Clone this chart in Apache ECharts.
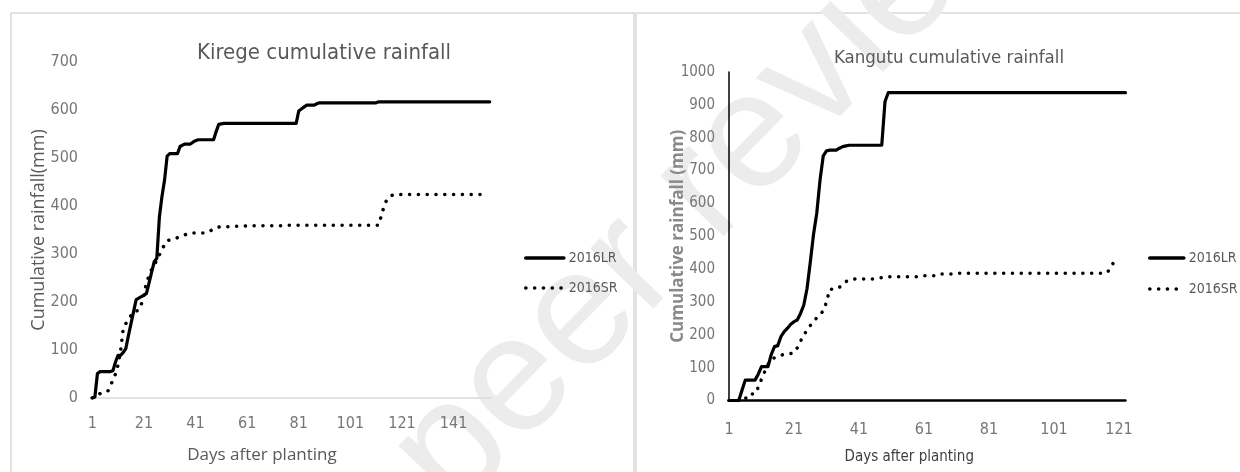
<!DOCTYPE html>
<html>
<head>
<meta charset="utf-8">
<title>Cumulative rainfall</title>
<script src="https://cdn.jsdelivr.net/npm/echarts@6/dist/echarts.min.js"></script>
<style>
  html, body { margin: 0; padding: 0; background: #fff; }
  #chart { width: 1240px; height: 472px; }
</style>
</head>
<body>
<div id="chart"></div>
<script>
// Kirege: days 1..155, Kangutu: days 1..123
var kiregeDays = Array.from({ length: 155 }, function (_, i) { return String(i + 1); });
var kangutuDays = Array.from({ length: 123 }, function (_, i) { return String(i + 1); });

// Kirege cumulative rainfall (mm)
var kiregeLR = [
  0, 2, 51, 55, 55, 55, 55, 55, 57, 75,
  89, 89, 95, 103, 130, 155, 180, 205, 208, 211,
  214, 218, 240, 262, 284, 291, 377, 420, 454, 504,
  509, 509, 509, 509, 524, 527, 529, 529, 529, 533,
  536, 538, 538, 538, 538, 538, 538, 538, 555, 570,
  571, 572, 572, 572, 572, 572, 572, 572, 572, 572,
  572, 572, 572, 572, 572, 572, 572, 572, 572, 572,
  572, 572, 572, 572, 572, 572, 572, 572, 572, 572,
  598, 602, 606, 610, 610, 610, 610, 613, 615, 615,
  615, 615, 615, 615, 615, 615, 615, 615, 615, 615,
  615, 615, 615, 615, 615, 615, 615, 615, 615, 615,
  615, 617, 617, 617, 617, 617, 617, 617, 617, 617,
  617, 617, 617, 617, 617, 617, 617, 617, 617, 617,
  617, 617, 617, 617, 617, 617, 617, 617, 617, 617,
  617, 617, 617, 617, 617, 617, 617, 617, 617, 617,
  617, 617, 617, 617, 617
];
var kiregeSR = [
  0, 3, 7, 9, 11, 13, 14, 25, 38, 50,
  69, 100, 145, 155, 162, 172, 180, 181, 183, 195,
  215, 240, 255, 268, 277, 287, 298, 309, 320, 328,
  329, 330, 332, 334, 336, 338, 340, 342, 343, 344,
  344, 344, 344, 344, 344, 346, 349, 352, 355, 356,
  357, 357, 357, 357, 357, 358, 358, 358, 358, 358,
  359, 359, 359, 359, 359, 359, 359, 359, 359, 359,
  359, 359, 359, 359, 359, 360, 360, 360, 360, 360,
  360, 360, 360, 360, 360, 360, 360, 360, 360, 360,
  360, 360, 360, 360, 360, 360, 360, 360, 360, 360,
  360, 360, 360, 360, 360, 360, 360, 360, 360, 360,
  360, 360, 380, 398, 412, 418, 422, 424, 424, 424,
  424, 424, 424, 424, 424, 424, 424, 424, 424, 424,
  424, 424, 424, 424, 424, 424, 424, 424, 424, 424,
  424, 424, 424, 424, 424, 424, 424, 424, 424, 424,
  424, 424
];

// Kangutu cumulative rainfall (mm)
var kangutuLR = [
  0, 0, 0, 0, 31, 62, 62, 62, 62, 80,
  103, 103, 103, 140, 164, 167, 195, 210, 220, 232,
  240, 245, 265, 290, 340, 420, 505, 570, 670, 745,
  760, 762, 762, 762, 768, 773, 775, 777, 777, 777,
  777, 777, 777, 777, 777, 777, 777, 777, 910, 937,
  937, 937, 937, 937, 937, 937, 937, 937, 937, 937,
  937, 937, 937, 937, 937, 937, 937, 937, 937, 937,
  937, 937, 937, 937, 937, 937, 937, 937, 937, 937,
  937, 937, 937, 937, 937, 937, 937, 937, 937, 937,
  937, 937, 937, 937, 937, 937, 937, 937, 937, 937,
  937, 937, 937, 937, 937, 937, 937, 937, 937, 937,
  937, 937, 937, 937, 937, 937, 937, 937, 937, 937,
  937, 937, 937
];
var kangutuSR = [
  0, 0, 0, 0, 0, 5, 20, 20, 20, 40,
  65, 88, 110, 125, 130, 135, 138, 140, 142, 143,
  145, 160, 180, 200, 213, 228, 240, 252, 263, 272,
  300, 339, 339, 339, 345, 352, 362, 367, 369, 370,
  370, 370, 370, 370, 370, 370, 372, 374, 375, 376,
  377, 377, 377, 377, 377, 377, 377, 377, 377, 377,
  380, 380, 380, 380, 380, 385, 385, 385, 385, 385,
  387, 387, 387, 387, 387, 387, 387, 387, 387, 387,
  387, 387, 387, 387, 387, 387, 387, 387, 387, 387,
  387, 387, 387, 387, 387, 387, 387, 387, 387, 387,
  387, 387, 387, 387, 387, 387, 387, 387, 387, 387,
  387, 387, 387, 387, 387, 387, 387, 397, 415, 428,
  430
];

var seriesNames = ['2016LR', '2016SR'];

var narrow = '"DejaVu Sans Condensed", "Liberation Sans", sans-serif';
var wide = '"Open Sans", "Noto Sans", sans-serif';
var textGray = '#595959';
var tickGray = '#767676';

var solidLine = { color: '#000', width: 3.2, cap: 'round', join: 'round' };
var dotLine = { color: '#000', width: 3.5, type: [0.1, 8.7], cap: 'round' };
var plainNumber = function (v) { return String(v); };

var chart = echarts.init(document.getElementById('chart'));

chart.setOption({
  backgroundColor: '#fff',
  animation: false,
  title: [
    { text: 'Kirege cumulative rainfall', left: 319, top: 37, textAlign: 'center',
      textStyle: { fontFamily: narrow, fontSize: 22, fontWeight: 'normal', color: textGray } },
    { text: 'Kangutu cumulative rainfall', left: 944, top: 44, textAlign: 'center',
      textStyle: { fontFamily: narrow, fontSize: 18.5, fontWeight: 'normal', color: textGray } }
  ],
  legend: [
    { data: seriesNames, orient: 'vertical', left: 519, top: 246, itemWidth: 38, itemHeight: 14, itemGap: 16,
      itemStyle: { opacity: 0 }, lineStyle: { width: 3.6 },
      textStyle: { fontFamily: narrow, fontSize: 14, color: textGray }, selectedMode: false },
    { data: seriesNames, orient: 'vertical', left: 1143, top: 246, itemWidth: 34, itemHeight: 14, itemGap: 17,
      itemStyle: { opacity: 0 }, lineStyle: { width: 3.6 },
      textStyle: { fontFamily: narrow, fontSize: 14, color: textGray }, selectedMode: false }
  ],
  grid: [
    { left: 91, top: 62, width: 400, height: 336 },
    { left: 729, top: 72, width: 396.5, height: 328.5 }
  ],
  xAxis: [
    { type: 'category', gridIndex: 0, data: kiregeDays, boundaryGap: true,
      name: 'Days after planting', nameLocation: 'middle', nameGap: 49, nameMoveOverlap: false,
      nameTextStyle: { fontFamily: wide, fontSize: 17, color: textGray, padding: [0, 58, 0, 0] },
      axisLine: { lineStyle: { color: '#d9d9d9', width: 1.5 } },
      axisTick: { show: false },
      axisLabel: { interval: 19, margin: 18, fontFamily: narrow, fontSize: 16, color: tickGray } },
    { type: 'category', gridIndex: 1, data: kangutuDays, boundaryGap: false,
      name: 'Days after planting', nameLocation: 'middle', nameGap: 49, nameMoveOverlap: false,
      nameTextStyle: { fontFamily: narrow, fontSize: 15, color: '#404040', padding: [0, 36, 0, 0] },
      axisLine: { lineStyle: { color: '#000', width: 2.5 } },
      axisTick: { show: false },
      axisLabel: { interval: 19, margin: 21, fontFamily: narrow, fontSize: 16, color: tickGray } }
  ],
  yAxis: [
    { type: 'value', gridIndex: 0, min: 0, max: 700, interval: 100,
      name: 'Cumulative rainfall(mm)', nameLocation: 'middle', nameGap: 43, nameMoveOverlap: false,
      nameTextStyle: { fontFamily: wide, fontSize: 18, color: textGray },
      axisLine: { show: false }, axisTick: { show: false }, splitLine: { show: false },
      axisLabel: { margin: 13, fontFamily: narrow, fontSize: 16, color: tickGray, formatter: plainNumber } },
    { type: 'value', gridIndex: 1, min: 0, max: 1000, interval: 100,
      name: 'Cumulative rainfall (mm)', nameLocation: 'middle', nameGap: 42, nameMoveOverlap: false,
      nameTextStyle: { fontFamily: wide, fontSize: 17, fontWeight: 'bold', color: '#8a8a8a' },
      axisLine: { show: true, lineStyle: { color: '#000', width: 1.5 } },
      axisTick: { show: false }, splitLine: { show: false },
      axisLabel: { margin: 14, fontFamily: narrow, fontSize: 15, color: tickGray, formatter: plainNumber } }
  ],
  series: [
    { name: '2016LR', type: 'line', xAxisIndex: 0, yAxisIndex: 0, data: kiregeLR,
      symbol: 'none', lineStyle: solidLine, itemStyle: { color: '#000' }, z: 3 },
    { name: '2016SR', type: 'line', xAxisIndex: 0, yAxisIndex: 0, data: kiregeSR,
      symbol: 'none', lineStyle: dotLine, itemStyle: { color: '#000' }, z: 3 },
    { name: '2016LR', type: 'line', xAxisIndex: 1, yAxisIndex: 1, data: kangutuLR,
      symbol: 'none', lineStyle: solidLine, itemStyle: { color: '#000' }, z: 3 },
    { name: '2016SR', type: 'line', xAxisIndex: 1, yAxisIndex: 1, data: kangutuSR,
      symbol: 'none', lineStyle: dotLine, itemStyle: { color: '#000' }, z: 3 }
  ],
  graphic: [
    // panel frames
    { type: 'rect', z: -10, shape: { x: 11, y: 13, width: 623, height: 480 },
      style: { fill: 'none', stroke: '#d9d9d9', lineWidth: 1.5 } },
    { type: 'rect', z: -10, shape: { x: 636, y: 13, width: 620, height: 480 },
      style: { fill: 'none', stroke: '#d9d9d9', lineWidth: 1.5 } },
    // review watermark
    { type: 'text', z: -5, x: 480, y: 540, rotation: 0.8,
      style: { text: 'peer review', fontFamily: '"Liberation Sans", sans-serif', fontSize: 165,
               fill: '#ececec', verticalAlign: 'bottom' } }
  ]
});
</script>
</body>
</html>
